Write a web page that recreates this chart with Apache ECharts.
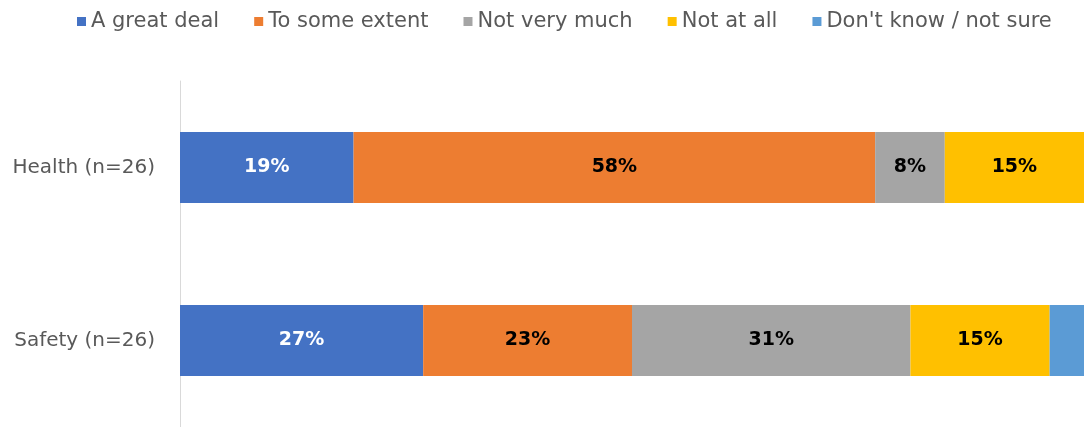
<!DOCTYPE html>
<html><head><meta charset="utf-8">
<script src="https://cdn.jsdelivr.net/npm/echarts@6/dist/echarts.min.js"></script>
<style>html,body{margin:0;padding:0;background:#fff}#c{width:1084px;height:427px}</style>
</head><body><div id="c"></div>
<script>
const categories = ['Health (n=26)', 'Safety (n=26)'];
const seriesNames = ['A great deal', 'To some extent', 'Not very much', 'Not at all', "Don't know / not sure"];
const greatDeal = [19.2, 26.9];
const someExtent = [57.7, 23.1];
const notVeryMuch = [7.7, 30.8];
const notAtAll = [15.4, 15.4];
const dontKnow = [0, 3.8];
const colors = ['#4472C4', '#ED7D31', '#A5A5A5', '#FFC000', '#5B9BD5'];
const labelColors = ['#ffffff', '#000000', '#000000', '#000000', '#000000'];
const values = [greatDeal, someExtent, notVeryMuch, notAtAll, dontKnow];
const font = 'DejaVu Sans';
const chart = echarts.init(document.getElementById('c'));
chart.setOption({
  animation: false,
  legend: {
    top: 6, left: 72, itemWidth: 9, itemHeight: 9, itemGap: 35,
    icon: 'rect',
    textStyle: {fontFamily: font, fontSize: 21, color: '#595959'},
    data: seriesNames
  },
  grid: {left: 180, right: -4, top: 81, bottom: -4, containLabel: false},
  xAxis: {type: 'value', min: 0, max: 100, show: false},
  yAxis: {
    type: 'category', data: categories, inverse: true,
    axisLine: {show: true, lineStyle: {color: '#D9D9D9', width: 1}},
    axisTick: {show: false},
    axisLabel: {fontFamily: font, fontSize: 20, color: '#595959', margin: 25}
  },
  series: values.map((v, i) => ({
    name: seriesNames[i], type: 'bar', stack: 'a', barWidth: 71,
    data: v,
    itemStyle: {color: colors[i]},
    label: {
      show: i < 4, position: 'inside', fontFamily: font, fontSize: 19, fontWeight: 'bold',
      color: labelColors[i],
      formatter: p => p.value > 0 ? Math.round(p.value) + '%' : ''
    }
  }))
});
</script></body></html>
